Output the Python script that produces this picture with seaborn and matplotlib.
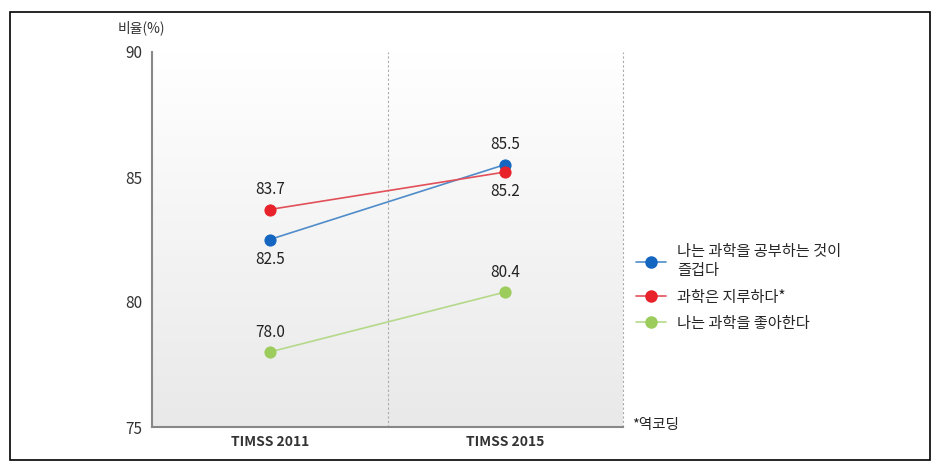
import numpy as np
import pandas as pd
import matplotlib
matplotlib.use('Agg')
import matplotlib.pyplot as plt
import seaborn as sns
from matplotlib.patches import Rectangle
from matplotlib.colors import LinearSegmentedColormap

# data
years = ['TIMSS 2011', 'TIMSS 2015']
series = ['나는 과학을 공부하는 것이\n즐겁다', '과학은 지루하다*', '나는 과학을 좋아한다']
enjoy = [82.5, 85.5]
boring = [83.7, 85.2]
like = [78.0, 80.4]

marker_colors = ['#1466c0', '#e8222b', '#9ccc5c']
line_colors = ['#4f8cc9', '#e2505a', '#b5d98a']

sns.set_theme(style='white')
plt.rcParams['font.family'] = ['Noto Sans CJK KR', 'DejaVu Sans']

df = pd.DataFrame({
    'year': years * 3,
    'value': enjoy + boring + like,
    'series': [s for s in series for _ in years],
})

fig = plt.figure(figsize=(9.4, 4.72), dpi=100)
ax = fig.add_axes([152 / 940, 1 - 427 / 472, 471 / 940, 375 / 472])

# gradient background, white at top to light grey at bottom
bg = LinearSegmentedColormap.from_list('bg', ['#e9e9e9', '#ffffff'])
grad = np.linspace(0.0, 1.0, 256).reshape(-1, 1)
ax.imshow(grad, extent=[-0.5, 1.5, 75, 90], aspect='auto', cmap=bg,
          zorder=0, origin='lower')

for s, mc, lc in zip(series, marker_colors, line_colors):
    sub = df[df['series'] == s]
    sns.lineplot(data=sub, x='year', y='value', ax=ax, color=lc, lw=1.2,
                 marker='o', markersize=8, markerfacecolor=mc,
                 markeredgecolor=mc, zorder=3, sort=False)

ax.set_xlim(-0.5, 1.5)
ax.set_ylim(75, 90)
ax.set_yticks([75, 80, 85, 90])
ax.set_xlabel('')
ax.set_ylabel('')
ax.tick_params(axis='both', length=0, labelsize=11, colors='#333333')
ax.tick_params(axis='y', pad=7)
ax.tick_params(axis='x', pad=6)
for lab in ax.get_xticklabels():
    lab.set_fontweight('bold')
    lab.set_fontsize(10)

for side in ['top', 'right']:
    ax.spines[side].set_visible(False)
for side in ['left', 'bottom']:
    ax.spines[side].set_color('#888888')
    ax.spines[side].set_linewidth(1.5)

ax.axvline(0.5, color='#aaaaaa', ls=(0, (2, 2)), lw=0.8, zorder=1)
ax.axvline(1.5, color='#aaaaaa', ls=(0, (2, 2)), lw=0.8, zorder=1, clip_on=False)

# value labels
label_kw = dict(ha='center', fontsize=11, color='#222222')
ax.annotate(f'{boring[0]:.1f}', (0, boring[0]), xytext=(0, 8), textcoords='offset points', va='bottom', **label_kw)
ax.annotate(f'{enjoy[0]:.1f}', (0, enjoy[0]), xytext=(0, -8), textcoords='offset points', va='top', **label_kw)
ax.annotate(f'{enjoy[1]:.1f}', (1, enjoy[1]), xytext=(0, 8), textcoords='offset points', va='bottom', **label_kw)
ax.annotate(f'{boring[1]:.1f}', (1, boring[1]), xytext=(0, -8), textcoords='offset points', va='top', **label_kw)
ax.annotate(f'{like[0]:.1f}', (0, like[0]), xytext=(0, 8), textcoords='offset points', va='bottom', **label_kw)
ax.annotate(f'{like[1]:.1f}', (1, like[1]), xytext=(0, 8), textcoords='offset points', va='bottom', **label_kw)

fig.text(118 / 940, 1 - 28 / 472, '비율(%)', fontsize=10, color='#333333', va='center')

handles = [plt.Line2D([], [], color=lc, marker='o', markersize=8,
                      markerfacecolor=mc, markeredgecolor=mc, lw=1.2)
           for mc, lc in zip(marker_colors, line_colors)]
fig.legend(handles, series, loc='upper left', bbox_to_anchor=(622 / 940, 1 - 229 / 472),
           frameon=False, fontsize=11, handlelength=2.0, labelspacing=0.6,
           handletextpad=0.7)

fig.text(632 / 940, 1 - 425 / 472, '*역코딩', fontsize=10.5, color='#222222', va='center')

# outer border
fig.patches.append(Rectangle((10 / 940, 1 - 460 / 472), 920 / 940, 448 / 472,
                             transform=fig.transFigure, fill=False,
                             edgecolor='black', lw=1.2))

fig.savefig('out.png', dpi=100)
